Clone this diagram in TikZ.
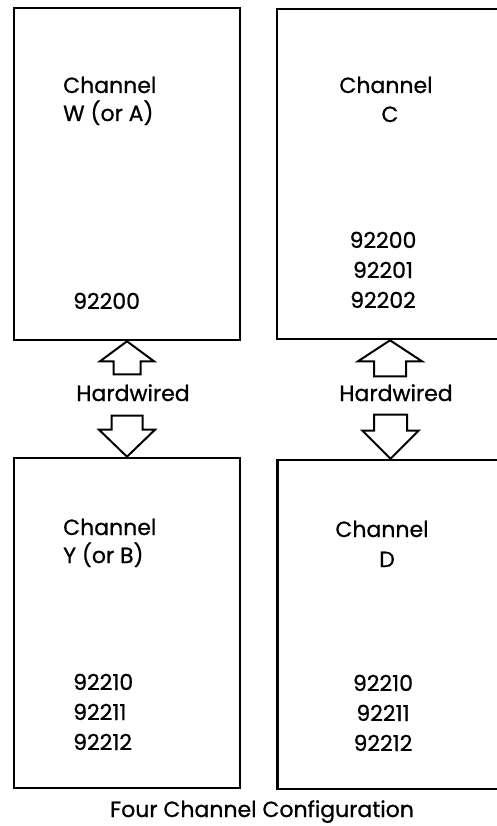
\documentclass[tikz,border=0pt]{standalone}
\usepackage{fontspec}
\setmainfont{Poppins}[UprightFeatures={FakeBold=0.8}]
\usetikzlibrary{calc}
\begin{document}
\begin{tikzpicture}[x=1pt,y=-1pt,
  chbox/.style={draw,line width=2.6pt,minimum width=226pt,inner sep=0pt},
  txt/.style={inner sep=0pt,font=\fontsize{22}{26}\selectfont},
  blk/.style={draw,line width=2pt,line join=miter,fill=white}]
\useasboundingbox (0,0) rectangle (497,826);
\clip (0,0) rectangle (497,826);
% boxes
\node[chbox,minimum height=332pt] (A) at (127,174) {};
\node[chbox,minimum height=330pt] (B) at (127,623) {};
\node[chbox,minimum height=330pt] (C) at (390,174) {};
\node[chbox,minimum height=329pt] (D) at (390.5,624.5) {};
% texts box A
\node[txt,anchor=base west] (a1) at (63,93) {Channel};
\node[txt,anchor=base west] (a2) at (63,121) {W (or A)};
\node[txt,anchor=base west] (a3) at (73,309) {92200};
% box C
\node[txt,anchor=base] (c1) at (386,93) {Channel};
\node[txt,anchor=base] (c2) at (390,122) {C};
\node[txt,anchor=base] (c3) at (383,248) {92200};
\node[txt,anchor=base] (c4) at (383,278) {92201};
\node[txt,anchor=base] (c5) at (383,308) {92202};
% box B
\node[txt,anchor=base west] (b1) at (63,535) {Channel};
\node[txt,anchor=base west] (b2) at (63,563) {Y (or B)};
\node[txt,anchor=base west] (b3) at (73,690) {92210};
\node[txt,anchor=base west] (b4) at (73,720) {92211};
\node[txt,anchor=base west] (b5) at (73,750) {92212};
% box D
\node[txt,anchor=base] (d1) at (382,537) {Channel};
\node[txt,anchor=base] (d2) at (387,567) {D};
\node[txt,anchor=base] (d3) at (383,691) {92210};
\node[txt,anchor=base] (d4) at (383,721) {92211};
\node[txt,anchor=base] (d5) at (383,751) {92212};
% hardwired labels
\node[txt,anchor=base] (h1) at (133,401) {Hardwired};
\node[txt,anchor=base] (h2) at (396,401) {Hardwired};
% block arrows
\draw[blk] (A.south) -- ++(27,20) -- ++(-13.5,0) -- ++(0,13) -- ++(-27,0) -- ++(0,-13) -- ++(-13.5,0) -- cycle;
\draw[blk] (B.north) -- ++(28,-27) -- ++(-12.5,0) -- ++(0,-14) -- ++(-31,0) -- ++(0,14) -- ++(-12.5,0) -- cycle;
\draw[blk] (C.south) -- ++(32,21) -- ++(-16,0) -- ++(0,15) -- ++(-32,0) -- ++(0,-15) -- ++(-16,0) -- cycle;
\draw[blk] (D.north) -- ++(28,-28) -- ++(-11.5,0) -- ++(0,-16) -- ++(-33,0) -- ++(0,16) -- ++(-11.5,0) -- cycle;
% caption
\node[txt,anchor=base] (cap) at (262,817) {Four Channel Configuration};
\end{tikzpicture}
\end{document}
